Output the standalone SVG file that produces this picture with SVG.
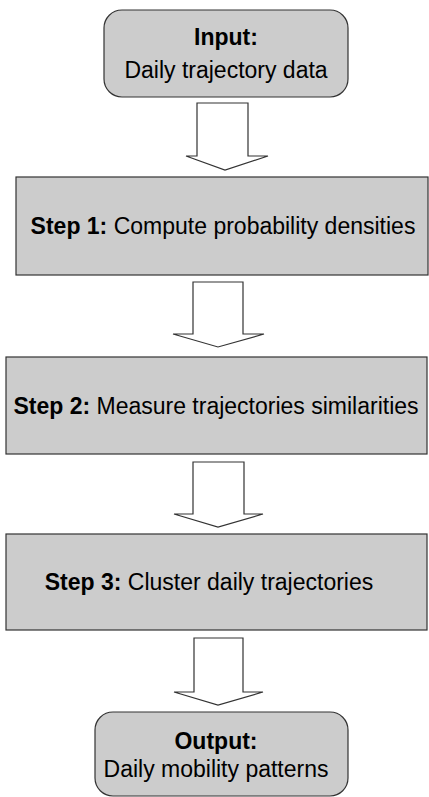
<svg xmlns="http://www.w3.org/2000/svg" width="429" height="797" viewBox="0 0 429 797">
<style>
.box{fill:#cccccc;stroke:#333333;stroke-width:1.2}
.arr{fill:#ffffff;stroke:#333333;stroke-width:1.2;stroke-linejoin:miter}
text{font-family:"Liberation Sans",Arial,sans-serif;font-size:23px;fill:#000000;text-anchor:middle}
.b{font-weight:bold}
</style>
<rect width="429" height="797" fill="#ffffff"/>
<g id="connectors">
<path class="arr" d="M197,103 H248 V156 H268 L225,170 L186,156 H197 Z"/>
<path class="arr" d="M193,282 H243 V334 H264 L218,347 L173,334 H193 Z"/>
<path class="arr" d="M193,462 H244 V514 H263 L218,527 L174,514 H193 Z"/>
<path class="arr" d="M194,638 H243 V692 H263 L218,705 L174,692 H194 Z"/>
</g>
<g id="input">
<rect class="box" x="104" y="10" width="244" height="87" rx="18" ry="18"/>
<text class="b" x="226" y="45">Input:</text>
<text x="226" y="78">Daily trajectory data</text>
</g>
<g id="step1">
<rect class="box" x="16" y="177" width="412" height="98"/>
<text x="223" y="234"><tspan class="b">Step 1:</tspan> Compute probability densities</text>
</g>
<g id="step2">
<rect class="box" x="6" y="357" width="421" height="97"/>
<text x="216" y="414"><tspan class="b">Step 2:</tspan> Measure trajectories similarities</text>
</g>
<g id="step3">
<rect class="box" x="6" y="534" width="421" height="96"/>
<text x="209" y="590"><tspan class="b">Step 3:</tspan> Cluster daily trajectories</text>
</g>
<g id="output">
<rect class="box" x="95" y="712" width="253" height="84" rx="18" ry="18"/>
<text class="b" x="216" y="749">Output:</text>
<text x="216" y="777">Daily mobility patterns</text>
</g>
</svg>
